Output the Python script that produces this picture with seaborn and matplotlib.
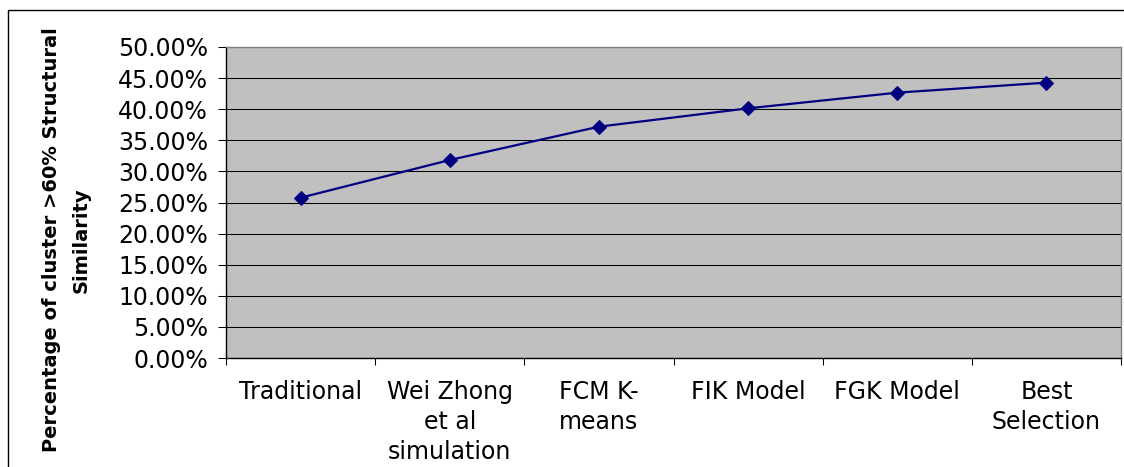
import matplotlib
matplotlib.use("Agg")
import matplotlib.pyplot as plt
from matplotlib.patches import Rectangle
from matplotlib.ticker import FixedLocator, PercentFormatter
import seaborn as sns
import pandas as pd

# Share of clusters with more than 60% structural similarity, per method
methods = ["Traditional", "Wei Zhong\net al\nsimulation", "FCM K-\nmeans",
           "FIK Model", "FGK Model", "Best\nSelection"]
share = [0.2577, 0.3183, 0.3719, 0.4014, 0.4266, 0.4427]
y_ticks = [0.00, 0.05, 0.10, 0.15, 0.20, 0.25, 0.30, 0.35, 0.40, 0.45, 0.50]

df = pd.DataFrame({"method": methods, "share": share})

sns.set_theme(style="ticks")
plt.rcParams["font.family"] = ["DejaVu Sans"]

W, H = 1124, 467
fig = plt.figure(figsize=(W / 100, H / 100), dpi=100)
ax = fig.add_axes([226 / W, 1 - 358 / H, (1121 - 226) / W, 311 / H])
ax.set_facecolor("#C0C0C0")

sns.lineplot(data=df, x="method", y="share", sort=False, ax=ax,
             color="#000080", linewidth=1.6, marker="D", markersize=7,
             markeredgecolor="#000080", markerfacecolor="#000080")

ax.set_xlim(-0.5, len(methods) - 0.5)
ax.set_ylim(0, 0.5)

# horizontal gridlines
ax.yaxis.set_major_locator(FixedLocator(y_ticks))
ax.yaxis.set_major_formatter(PercentFormatter(xmax=1, decimals=2))
ax.grid(axis="y", color="black", linewidth=0.75)
ax.grid(axis="x", visible=False)
ax.set_axisbelow(True)

# category labels centered, tick marks on category boundaries
ax.set_xticks(range(len(methods)))
ax.set_xticklabels(methods, linespacing=1.3)
ax.set_xticks([i - 0.5 for i in range(len(methods) + 1)], minor=True)
ax.tick_params(axis="x", which="major", length=0, pad=16, labelsize=17,
               colors="black")
ax.tick_params(axis="x", which="minor", length=5, width=0.75, color="black",
               direction="out")
for lbl in ax.get_xticklabels():
    lbl.set_verticalalignment("top")
ax.tick_params(axis="y", length=6, width=0.75, color="black", pad=7,
               labelsize=17, labelcolor="black", direction="out")

ax.set_xlabel("")
ax.set_ylabel("")

for side in ("left", "bottom"):
    ax.spines[side].set_color("black")
    ax.spines[side].set_linewidth(1.0)
for side in ("top", "right"):
    ax.spines[side].set_visible(True)
    ax.spines[side].set_color("#808080")
    ax.spines[side].set_linewidth(1.0)

fig.text(66 / W, 1 - 240 / H,
         "Percentage of cluster >60% Structural\nSimilarity",
         rotation=90, ha="center", va="center", multialignment="center",
         fontsize=14, fontweight="bold", color="black", linespacing=1.72)

# outer chart frame
fig.patches.append(Rectangle((8 / W, -0.1), 2.0, 1.1 - 10 / H,
                             transform=fig.transFigure, fill=False,
                             edgecolor="black", linewidth=1.0))

fig.savefig("out.png", dpi=100, facecolor="white")
